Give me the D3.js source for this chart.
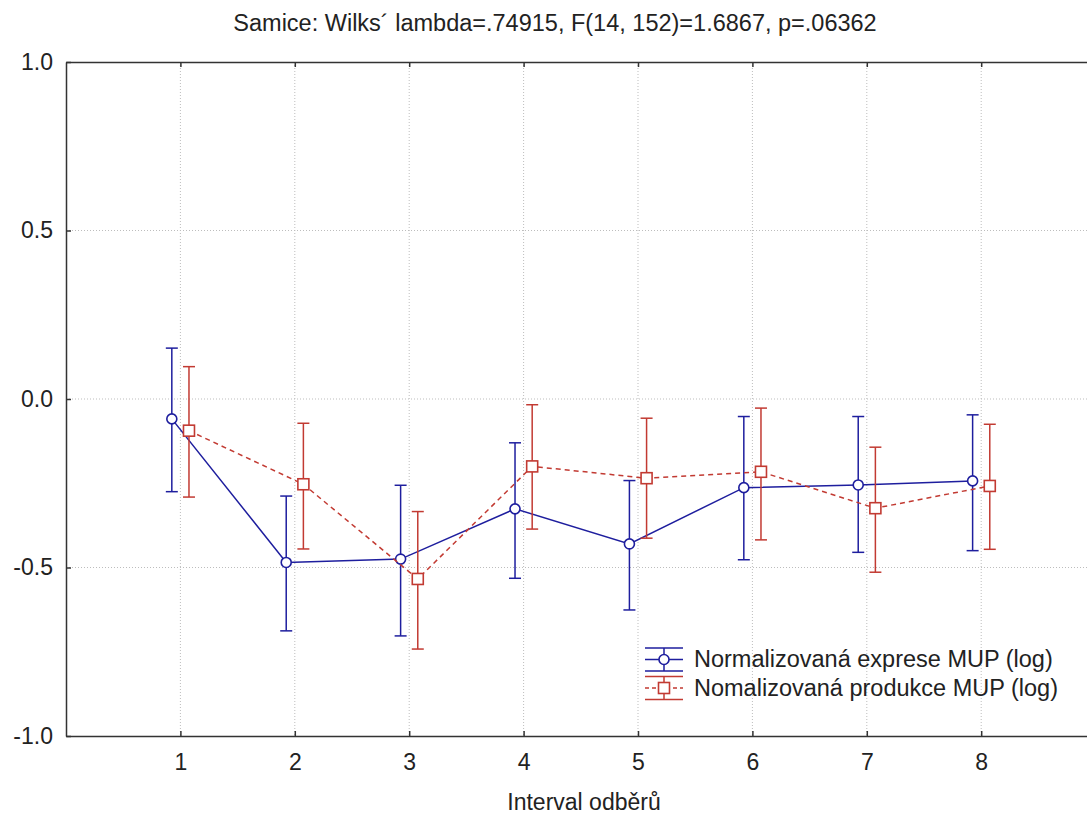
<!DOCTYPE html>
<html>
<head>
<meta charset="utf-8">
<script src="https://cdn.jsdelivr.net/npm/d3@7"></script>
<style>
  body { margin: 0; background: #fff; }
  svg { display: block; font-family: "Liberation Sans", Arial, sans-serif; }
</style>
</head>
<body>
<div id="chart"></div>
<script>
const categories = [1, 2, 3, 4, 5, 6, 7, 8];
const yTicks = [1.0, 0.5, 0.0, -0.5, -1.0];

// Normalizovaná exprese MUP (log)
const exprMean  = [-0.059, -0.485, -0.475, -0.326, -0.430, -0.263, -0.255, -0.243];
const exprUpper = [0.151, -0.288, -0.256, -0.130, -0.242, -0.052, -0.052, -0.047];
const exprLower = [-0.275, -0.688, -0.703, -0.532, -0.626, -0.477, -0.455, -0.450];

// Nomalizovaná produkce MUP (log)
const prodMean  = [-0.094, -0.253, -0.534, -0.200, -0.235, -0.216, -0.324, -0.258];
const prodUpper = [0.096, -0.072, -0.334, -0.017, -0.057, -0.027, -0.143, -0.075];
const prodLower = [-0.291, -0.445, -0.742, -0.386, -0.413, -0.418, -0.514, -0.446];

const seriesNames = ['Normalizovaná exprese MUP (log)', 'Nomalizovaná produkce MUP (log)'];
const titleText = 'Samice: Wilks\u00b4 lambda=.74915, F(14, 152)=1.6867, p=.06362';
const xTitle = 'Interval odběrů';

const width = 1087, height = 816;
const margin = { top: 62, left: 66, bottom: 80 };
const blue = '#1e1e9e', red = '#c23a32';

const svg = d3.select('#chart').append('svg')
  .attr('width', width)
  .attr('height', height);

const x = d3.scaleLinear().domain([0, 9]).range([margin.left, margin.left + 9 * 114.4]);
const y = d3.scaleLinear().domain([-1, 1]).range([height - margin.bottom, margin.top]);

// grid
const grid = svg.append('g');
grid.selectAll('.vg').data(categories).enter().append('line')
  .attr('x1', d => x(d)).attr('x2', d => x(d))
  .attr('y1', y(1)).attr('y2', y(-1))
  .attr('stroke', '#bdbdbd').attr('stroke-dasharray', '1,2');
grid.selectAll('.hg').data([0.5, 0, -0.5]).enter().append('line')
  .attr('x1', x(0)).attr('x2', width)
  .attr('y1', d => y(d)).attr('y2', d => y(d))
  .attr('stroke', '#bdbdbd').attr('stroke-dasharray', '1,2');

// axes
const yFmt = d => d3.format('.1f')(d).replace('\u2212', '-');
svg.append('g')
  .attr('transform', `translate(0,${y(-1)})`)
  .call(d3.axisBottom(x).tickValues(categories).tickSizeInner(-5).tickSizeOuter(0).tickPadding(18).tickFormat(d3.format('d')));
svg.append('g')
  .attr('transform', `translate(0,${y(1)})`)
  .call(d3.axisTop(x).tickValues(categories).tickSizeInner(-5).tickSizeOuter(0).tickFormat(''));
svg.append('g')
  .attr('transform', `translate(${x(0)},0)`)
  .call(d3.axisLeft(y).tickValues(yTicks).tickSizeInner(-5).tickSizeOuter(0).tickPadding(13).tickFormat(yFmt));

svg.selectAll('.domain').attr('stroke', '#333').attr('stroke-width', 1.5);
svg.selectAll('.tick line').attr('stroke', '#333').attr('stroke-width', 1.5);
svg.selectAll('.tick text').attr('fill', '#222').style('font-size', '23px');

// title + x label
svg.append('text')
  .attr('x', 555).attr('y', 31)
  .attr('text-anchor', 'middle')
  .attr('fill', '#222')
  .style('font-size', '23.5px')
  .text(titleText);

svg.append('text')
  .attr('x', 584).attr('y', 810)
  .attr('text-anchor', 'middle')
  .attr('fill', '#222')
  .style('font-size', '23px')
  .text(xTitle);

// series
const series = [
  { name: seriesNames[0], mean: exprMean, upper: exprUpper, lower: exprLower, color: blue, dx: -0.075, dash: null, marker: 'circle' },
  { name: seriesNames[1], mean: prodMean, upper: prodUpper, lower: prodLower, color: red, dx: 0.075, dash: '5,4', marker: 'square' }
];

const line = d3.line().x(d => d.px).y(d => d.py);

series.forEach(s => {
  const pts = categories.map((c, i) => ({
    px: x(c + s.dx), py: y(s.mean[i]), up: y(s.upper[i]), lo: y(s.lower[i])
  }));
  const g = svg.append('g');

  g.append('path')
    .attr('d', line(pts))
    .attr('fill', 'none')
    .attr('stroke', s.color)
    .attr('stroke-width', 1.5)
    .attr('stroke-dasharray', s.dash);

  g.selectAll('.eb').data(pts).enter().append('line')
    .attr('x1', d => d.px).attr('x2', d => d.px)
    .attr('y1', d => d.up).attr('y2', d => d.lo)
    .attr('stroke', s.color).attr('stroke-width', 1.5);
  ['up', 'lo'].forEach(k => {
    g.selectAll('.cap-' + k).data(pts).enter().append('line')
      .attr('x1', d => d.px - 6).attr('x2', d => d.px + 6)
      .attr('y1', d => d[k]).attr('y2', d => d[k])
      .attr('stroke', s.color).attr('stroke-width', 1.5);
  });

  if (s.marker === 'circle') {
    g.selectAll('.mk').data(pts).enter().append('circle')
      .attr('cx', d => d.px).attr('cy', d => d.py).attr('r', 5)
      .attr('fill', '#fff').attr('stroke', s.color).attr('stroke-width', 1.6);
  } else {
    g.selectAll('.mk').data(pts).enter().append('rect')
      .attr('x', d => d.px - 5.5).attr('y', d => d.py - 5.5)
      .attr('width', 11).attr('height', 11)
      .attr('fill', '#fff').attr('stroke', s.color).attr('stroke-width', 1.6);
  }
});

// legend
const legend = svg.append('g').attr('transform', 'translate(645,648)');
series.forEach((s, i) => {
  const lg = legend.append('g').attr('transform', `translate(0,${i * 28.5})`);
  [0, 23].forEach(yy => lg.append('line')
    .attr('x1', 0).attr('x2', 38).attr('y1', yy).attr('y2', yy)
    .attr('stroke', s.color).attr('stroke-width', 1.5));
  lg.append('line').attr('x1', 0).attr('x2', 38).attr('y1', 11.5).attr('y2', 11.5)
    .attr('stroke', s.color).attr('stroke-width', 1.5).attr('stroke-dasharray', s.dash ? '4,3' : null);
  lg.append('line').attr('x1', 19).attr('x2', 19).attr('y1', 0).attr('y2', 23)
    .attr('stroke', s.color).attr('stroke-width', 1.5);
  if (s.marker === 'circle') {
    lg.append('circle').attr('cx', 19).attr('cy', 11.5).attr('r', 5)
      .attr('fill', '#fff').attr('stroke', s.color).attr('stroke-width', 1.6);
  } else {
    lg.append('rect').attr('x', 13.5).attr('y', 6).attr('width', 11).attr('height', 11)
      .attr('fill', '#fff').attr('stroke', s.color).attr('stroke-width', 1.6);
  }
  lg.append('text').attr('x', 49).attr('y', 19)
    .attr('fill', '#222').style('font-size', '23.5px')
    .text(s.name);
});
</script>
</body>
</html>
